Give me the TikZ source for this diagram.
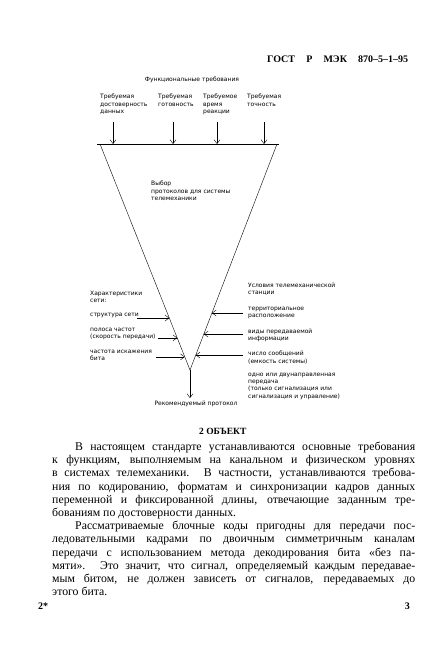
\documentclass[tikz,border=0pt]{standalone}
\usepackage{fontspec}
\setmainfont{Liberation Serif}
\newfontfamily\schemefont{DejaVu Sans}
\usetikzlibrary{arrows.meta, calc, positioning}

\newcommand\fullline[1]{\makebox[363pt][s]{#1}}
\newcommand\firstline[1]{\makebox[340pt][s]{#1}}

\begin{document}
\begin{tikzpicture}[x=1pt, y=-1pt,% page measured in pixels, y downwards
          > = {Straight Barb[length=4pt, width=6pt]},
  lbl/.style = {font=\schemefont\fontsize{6}{7.2}\selectfont,
                align=left, inner sep=0pt, anchor=north west},
  txt/.style = {font=\fontsize{11.8}{13.2}\selectfont,
                inner sep=0pt, anchor=base west},
  head/.style = {font=\bfseries\fontsize{10}{12}\selectfont,
                inner sep=0pt, anchor=base west},
                   ]
	\useasboundingbox[fill=white] (0,0) rectangle (422,661);

	% header
	\node[head] (gost) at (267,63) {\makebox[141pt][s]{ГОСТ Р МЭК 870--5--1--95}};

	% triangle of the protocol choice
	\coordinate (tl) at (100,144);
	\coordinate (tr) at (277,144);
	\coordinate (apex) at (190,370);
	\draw (97,144) -- (279,144);
	\draw (tl) -- (apex) -- (tr);

	\node[lbl, anchor=north] (func) at (192,77) {Функциональные требования};
	\node[lbl] (req1) at (100,94) {Требуемая\\достоверность\\данных};
	\node[lbl] (req2) at (158,94) {Требуемая\\готовность};
	\node[lbl] (req3) at (203,94) {Требуемое\\время\\реакции};
	\node[lbl] (req4) at (247,94) {Требуемая\\точность};
	\foreach \x/\n in {113/1, 173/2, 217/3, 264/4}{
		\coordinate (in\n) at (\x,122);
		\coordinate (on\n) at (\x,144);
		\draw[->] (in\n) -- (on\n);
	}

	\node[lbl] (choice) at (151,181) {Выбор\\протоколов для системы\\телемеханики};

	% network characteristics
	\node[lbl] (net) at (90,291) {Характеристики\\сети:};
	\node[lbl] (struct) at (90,313) {структура сети};
	\node[lbl] (band) at (90,328) {полоса частот\\(скорость передачи)};
	\node[lbl] (err) at (90,350) {частота искажения\\бита};
	\coordinate (e1) at ($(tl)!0.770!(apex)$);
	\coordinate (e2) at ($(tl)!0.858!(apex)$);
	\coordinate (e3) at ($(tl)!0.942!(apex)$);
	\draw[->] ([xshift=-2pt]struct.east |- e1) -- (e1);
	\draw[->] ([xshift=2pt]band.east |- e2) -- (e2);
	\draw[->] ([xshift=4pt]err.east |- e3) -- (e3);

	% station conditions
	\node[lbl] (stat) at (248,283) {Условия телемеханической\\станции};
	\node[lbl] (site) at (248,307) {территориальное\\расположение};
	\node[lbl] (kind) at (248,329) {виды передаваемой\\информации};
	\node[lbl] (num) at (248,351) {число сообщений\\(емкость системы)};
	\node[lbl] (dir) at (248,373) {одно или двунаправленная\\передача\\(только сигнализация или\\сигнализация и управление)};
	\coordinate (f1) at ($(tr)!0.748!(apex)$);
	\coordinate (f2) at ($(tr)!0.841!(apex)$);
	\coordinate (f3) at ($(tr)!0.934!(apex)$);
	\draw[->] ([xshift=-5pt]site.west |- f1) -- (f1);
	\draw[->] ([xshift=-5pt]kind.west |- f2) -- (f2);
	\draw[->] ([xshift=-5pt]num.west |- f3) -- (f3);

	\node[lbl, anchor=north, outer sep=3pt] (rec) at (196,398) {Рекомендуемый протокол};
	\draw[->] (apex) -- (apex |- rec.north);

	% text of the page
	\node[head, font=\bfseries\fontsize{9.5}{12}\selectfont] (sect) at (199,434) {2 ОБЪЕКТ};

	\node[txt] (p1a) at (75,450.5) {\firstline{В настоящем стандарте устанавливаются основные требования}};
	\node[txt] (p1b) at (52,463.7) {\fullline{к функциям, выполняемым на канальном и физическом уровнях}};
	\node[txt] (p1c) at (52,476.9) {\fullline{в системах телемеханики. В частности, устанавливаются требова-}};
	\node[txt] (p1d) at (52,490.1) {\fullline{ния по кодированию, форматам и синхронизации кадров данных}};
	\node[txt] (p1e) at (52,503.3) {\fullline{переменной и фиксированной длины, отвечающие заданным тре-}};
	\node[txt] (p1f) at (52,516.5) {бованиям по достоверности данных.};

	\node[txt] (p2a) at (75,529.7) {\firstline{Рассматриваемые блочные коды пригодны для передачи пос-}};
	\node[txt] (p2b) at (52,542.9) {\fullline{ледовательными кадрами по двоичным симметричным каналам}};
	\node[txt] (p2c) at (52,556.1) {\fullline{передачи с использованием метода декодирования бита «без па-}};
	\node[txt] (p2d) at (52,569.3) {\fullline{мяти». Это значит, что сигнал, определяемый каждым передавае-}};
	\node[txt] (p2e) at (52,582.5) {\fullline{мым битом, не должен зависеть от сигналов, передаваемых до}};
	\node[txt] (p2f) at (52,595.7) {этого бита.};

	\node[head] (sig) at (38,609) {2*};
	\node[head, anchor=base east] (page) at (410,609) {3};
\end{tikzpicture}
\end{document}
